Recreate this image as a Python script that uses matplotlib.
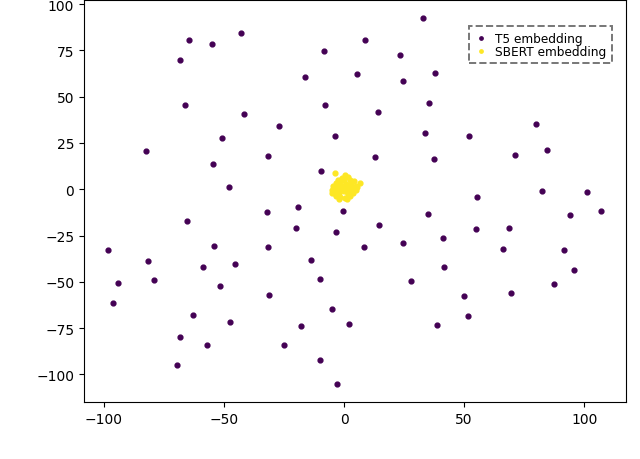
"""
t-SNE view of T5 vs SBERT embeddings
"""

import numpy as np
import matplotlib
matplotlib.use('Agg')
import matplotlib.pyplot as plt

# T5 embedding points
t5_x = [-43.0, -64.6, -55.1, -8.5, -68.2, 5.5, -16.4, -66.3, -7.8, -41.8,
        -27.1, -3.6, -50.8, -82.4, -31.8, -54.7, -9.5, -47.9, 32.8, 8.75,
        23.2, 24.5, 38.0, 35.3, 14.3, 79.9, 33.6, 52.0, 84.7, 71.3,
        12.9, 37.4, 82.6, 101.0, 55.4, -19.3, -32.1, -0.3, -65.4, -20.1,
        -3.2, -98.2, -54.2, -31.7, -81.5, -13.9, -58.6, -45.3, -10.0, -94.3,
        -79.0, -51.8, -31.4, -96.1, -4.9, -62.8, 2.2, -47.6, -18.0, -68.2,
        -57.1, -25.0, -10.1, -69.5, -2.8, 34.9, 14.7, 55.0, 68.6, 94.2,
        106.8, 8.3, 24.5, 41.0, 66.1, 91.4, 41.5, 95.8, 27.9, 87.4,
        50.1, 69.6, 51.4, 38.75]
t5_y = [84.6, 80.5, 78.5, 74.5, 69.8, 62.3, 60.8, 45.5, 45.5, 40.7,
        34.0, 28.9, 27.5, 20.8, 18.1, 13.5, 10.0, 1.1, 92.5, 80.6,
        72.4, 58.6, 62.6, 46.8, 41.9, 35.4, 30.2, 28.9, 21.2, 18.7,
        17.3, 16.2, -0.9, -1.3, -4.0, -9.4, -12.3, -11.6, -17.3, -20.9,
        -23.2, -32.9, -30.6, -31.3, -38.9, -38.2, -41.8, -40.2, -48.3, -50.4,
        -49.0, -52.1, -57.1, -61.2, -64.6, -67.7, -72.9, -71.5, -74.0, -79.9,
        -84.1, -84.2, -92.2, -95.0, -105.3, -13.3, -19.1, -21.4, -21.1, -13.9,
        -11.6, -31.0, -28.8, -26.5, -32.2, -32.8, -42.1, -43.6, -49.5, -51.0,
        -57.8, -56.2, -68.6, -73.3]

# SBERT embedding points (tight cluster near the origin)
sbert_x = [-3.8, 6.8, 0.5, 1.8, -0.8, -2.5, 0.0, 2.5, 4.0, -3.5,
           -1.5, 1.0, 3.0, 5.0, -4.6, -2.6, -0.5, 1.8, 4.0, -5.2,
           -3.2, -1.2, 0.8, 2.8, 4.8, -4.2, -2.3, 1.8, 3.8, -3.2,
           -1.5, 0.5, 2.5, -0.2, -2.0, 1.2, 3.2, -5.0, 5.2, -2.4, 1.6]
sbert_y = [8.6, 3.4, 7.5, 6.5, 6.0, 5.0, 4.8, 5.0, 4.2, 3.2,
           3.5, 3.0, 2.8, 2.0, 1.5, 1.8, 1.5, 1.2, 0.8, -0.3,
           0.0, -0.2, -0.5, -0.3, -0.4, -1.8, -1.8, -2.0, -2.2, -3.5,
           -4.0, -4.5, -3.8, -0.8, -5.0, -5.0, 0.9, -2.0, 1.0, -2.6, -2.8]

labels = ['T5 embedding', 'SBERT embedding']


def main():
    fig = plt.figure(figsize=(6.4, 4.6), dpi=100)
    ax = fig.add_axes([84 / 640, 57 / 460, 542 / 640, 402 / 460])

    cmap = plt.get_cmap('viridis')
    ax.scatter(t5_x, t5_y, s=12, color=cmap(0.0), label=labels[0])
    ax.scatter(sbert_x, sbert_y, s=12, color=cmap(1.0), label=labels[1])

    ax.set_xlim(-108.3, 117.4)
    ax.set_ylim(-114.9, 102.2)
    ax.set_xticks([-100, -50, 0, 50, 100])
    ax.set_yticks([-100, -75, -50, -25, 0, 25, 50, 75, 100])

    leg = ax.legend(loc='upper right', bbox_to_anchor=(0.974, 0.935),
                    borderaxespad=0, fontsize=8.7, fancybox=False,
                    labelspacing=0.0, handlelength=1.0, handletextpad=0.7,
                    borderpad=0.45, markerscale=0.7)
    frame = leg.get_frame()
    frame.set_edgecolor('#555555')
    frame.set_linestyle('--')
    frame.set_linewidth(1.4)

    fig.savefig('out.png', dpi=100)


if __name__ == '__main__':
    main()
